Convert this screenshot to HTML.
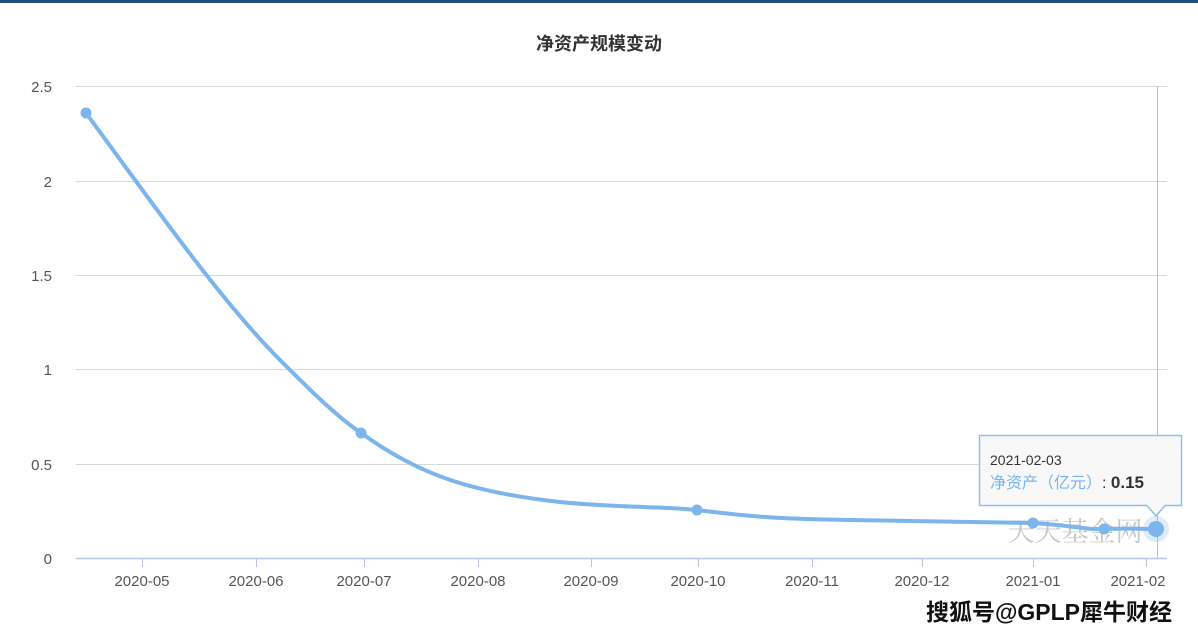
<!DOCTYPE html>
<html><head><meta charset="utf-8"><style>
body{margin:0;background:#fff;}
svg{display:block;font-family:"Liberation Sans","Noto Sans CJK SC",sans-serif;}
</style></head><body>
<svg width="1198" height="639" viewBox="0 0 1198 639">
<rect x="0" y="0" width="1198" height="3" fill="#1f4e79"/>
<text x="599" y="50" text-anchor="middle" font-size="18" font-weight="bold" fill="#333">净资产规模变动</text>
<g stroke="#d8d8d8" stroke-width="1">
<line x1="76" y1="86.5" x2="1167" y2="86.5"/>
<line x1="76" y1="181.5" x2="1167" y2="181.5"/>
<line x1="76" y1="275.5" x2="1167" y2="275.5"/>
<line x1="76" y1="369.5" x2="1167" y2="369.5"/>
<line x1="76" y1="464.5" x2="1167" y2="464.5"/>
</g>
<line x1="76" y1="558.5" x2="1167" y2="558.5" stroke="#b8c8e0" stroke-width="1.5"/>
<g stroke="#b8c8e0" stroke-width="1">
<line x1="142.5" y1="558" x2="142.5" y2="567"/><line x1="256.5" y1="558" x2="256.5" y2="567"/>
<line x1="364.5" y1="558" x2="364.5" y2="567"/><line x1="478.5" y1="558" x2="478.5" y2="567"/>
<line x1="591.5" y1="558" x2="591.5" y2="567"/><line x1="698.5" y1="558" x2="698.5" y2="567"/>
<line x1="812.5" y1="558" x2="812.5" y2="567"/><line x1="922.5" y1="558" x2="922.5" y2="567"/>
<line x1="1033.5" y1="558" x2="1033.5" y2="567"/><line x1="1146.5" y1="558" x2="1146.5" y2="567"/>
</g>
<line x1="1157.5" y1="86" x2="1157.5" y2="558" stroke="#c0c0c0" stroke-width="1"/>
<g font-size="15" fill="#555" text-anchor="end">
<text x="52" y="92">2.5</text><text x="52" y="187">2</text><text x="52" y="281">1.5</text>
<text x="52" y="375">1</text><text x="52" y="470">0.5</text><text x="52" y="564">0</text>
</g>
<g font-size="15" fill="#555" text-anchor="middle">
<text x="142" y="586">2020-05</text><text x="256" y="586">2020-06</text><text x="364" y="586">2020-07</text>
<text x="478" y="586">2020-08</text><text x="591" y="586">2020-09</text><text x="698" y="586">2020-10</text>
<text x="812" y="586">2020-11</text><text x="922" y="586">2020-12</text><text x="1033" y="586">2021-01</text>
<text x="1138" y="586">2021-02</text>
</g>
<text x="1075" y="541" text-anchor="middle" font-size="27" fill="#c8c8c8" font-family="'Noto Serif CJK SC',serif">天天基金网</text>
<path d="M86,113 C150,200 220,300 280,360 C310,390 335,415 361,433 C420,475 470,492 560,502 C620,508 660,506 697,510 C760,518 790,519 850,520 C930,521 990,522 1033,523 C1070,525 1085,530 1104,529 C1130,528 1140,529 1156,529" fill="none" stroke="#7cb5ec" stroke-width="4"/>
<g fill="#7cb5ec">
<circle cx="86" cy="113" r="5.5"/><circle cx="361" cy="433" r="5.5"/><circle cx="697" cy="510" r="5.5"/>
<circle cx="1033" cy="523" r="5.5"/><circle cx="1104" cy="529" r="5.5"/>
<circle cx="1156" cy="529" r="13" fill="#7cb5ec" opacity="0.25"/>
<circle cx="1156" cy="529" r="8"/>
</g>
<path d="M979.5,435.5 H1181.5 V505.5 H1165 L1156,516 L1147,505.5 H979.5 Z" fill="#f8f8f8" fill-opacity="0.95" stroke="#8fc0ee" stroke-width="1.5"/>
<text x="990" y="465" font-size="14" fill="#333">2021-02-03</text>
<text x="990" y="488" font-size="16" fill="#7cb5ec">净资产（亿元）<tspan fill="#333">: </tspan><tspan fill="#333" font-weight="bold" font-size="17">0.15</tspan></text>
<text x="1172" y="620" text-anchor="end" font-size="23" fill="#111" font-weight="bold">搜狐号@GPLP犀牛财经</text>
</svg>
</body></html>
